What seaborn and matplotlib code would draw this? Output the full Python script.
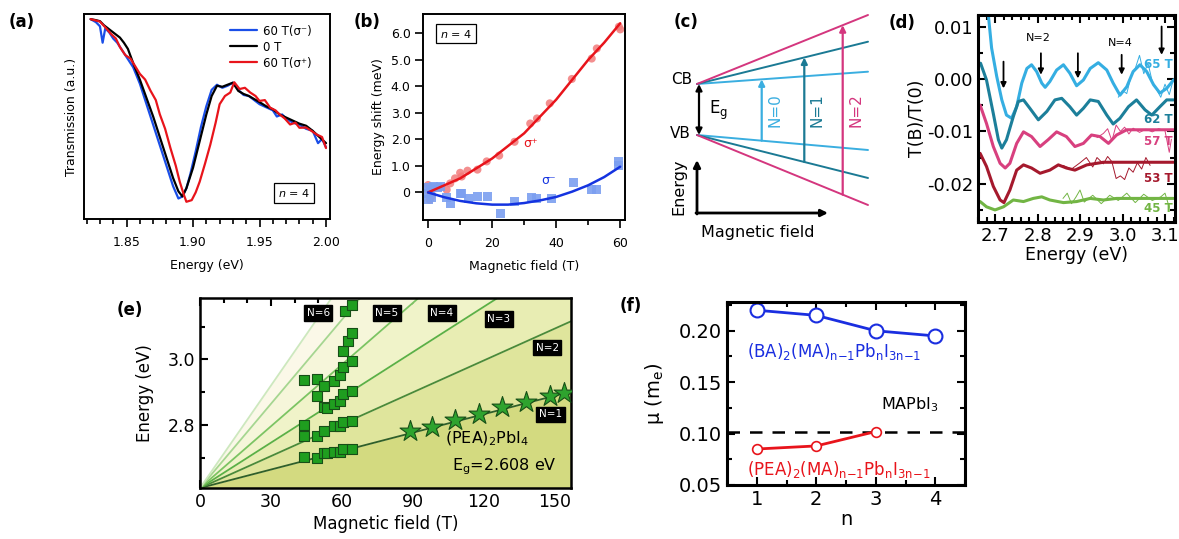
import numpy as np
import pandas as pd
import matplotlib.pyplot as plt
import seaborn as sns
from matplotlib.ticker import MultipleLocator, FormatStrFormatter

# ---------------- data ----------------
# (a) transmission spectra, n = 4
a_e_black = [1.823, 1.827, 1.830, 1.833, 1.836, 1.839, 1.842, 1.845, 1.848, 1.851, 1.855, 1.860,
             1.865, 1.870, 1.875, 1.880, 1.885, 1.889, 1.892, 1.895, 1.900, 1.905, 1.910, 1.914,
             1.918, 1.922, 1.926, 1.930, 1.934, 1.938, 1.942, 1.946, 1.950, 1.955, 1.960, 1.965,
             1.970, 1.975, 1.980, 1.985, 1.990, 1.995, 2.000]
a_t_black = [0.975, 0.970, 0.965, 0.945, 0.930, 0.915, 0.900, 0.885, 0.860, 0.830, 0.760, 0.680,
             0.590, 0.500, 0.400, 0.300, 0.200, 0.135, 0.110, 0.150, 0.250, 0.380, 0.510, 0.600,
             0.650, 0.645, 0.655, 0.665, 0.625, 0.610, 0.600, 0.585, 0.570, 0.550, 0.535, 0.510,
             0.495, 0.480, 0.465, 0.455, 0.430, 0.400, 0.370]
a_e_blue = [1.823, 1.827, 1.830, 1.832, 1.834, 1.837, 1.840, 1.843, 1.846, 1.849, 1.852, 1.855,
            1.860, 1.865, 1.870, 1.875, 1.880, 1.885, 1.889, 1.892, 1.895, 1.898, 1.902, 1.906,
            1.910, 1.914, 1.918, 1.922, 1.926, 1.930, 1.934, 1.938, 1.942, 1.946, 1.950, 1.955,
            1.960, 1.963, 1.967, 1.970, 1.975, 1.980, 1.985, 1.990, 1.994, 1.997, 2.000]
a_t_blue = [0.975, 0.960, 0.940, 0.860, 0.930, 0.910, 0.880, 0.860, 0.830, 0.800, 0.770, 0.740,
            0.660, 0.560, 0.460, 0.360, 0.260, 0.160, 0.100, 0.110, 0.150, 0.220, 0.330, 0.450,
            0.550, 0.630, 0.655, 0.640, 0.650, 0.665, 0.630, 0.605, 0.600, 0.580, 0.560, 0.545,
            0.530, 0.500, 0.510, 0.490, 0.470, 0.460, 0.440, 0.430, 0.370, 0.390, 0.350]
a_e_red = [1.823, 1.830, 1.834, 1.838, 1.842, 1.845, 1.849, 1.853, 1.857, 1.860, 1.864, 1.868,
           1.872, 1.875, 1.879, 1.883, 1.887, 1.890, 1.893, 1.895, 1.899, 1.902, 1.905, 1.909,
           1.913, 1.917, 1.920, 1.924, 1.928, 1.931, 1.935, 1.939, 1.943, 1.947, 1.950, 1.954,
           1.958, 1.962, 1.965, 1.969, 1.973, 1.977, 1.980, 1.985, 1.989, 1.993, 1.997, 2.000]
a_t_red = [0.975, 0.963, 0.935, 0.905, 0.880, 0.839, 0.800, 0.782, 0.740, 0.708, 0.680, 0.626,
           0.580, 0.511, 0.440, 0.346, 0.260, 0.182, 0.120, 0.084, 0.092, 0.130, 0.182, 0.270,
           0.363, 0.470, 0.560, 0.600, 0.617, 0.667, 0.634, 0.640, 0.617, 0.600, 0.576, 0.580,
           0.543, 0.530, 0.511, 0.490, 0.461, 0.470, 0.445, 0.446, 0.430, 0.412, 0.400, 0.346]

# (b) energy shift vs field
b_field_plus = [0, 0.2, 0.5, 1.0, 2.0, 3.5, 5.8, 6.9, 8.4, 10.0, 10.5, 12.3, 15.4, 18.3, 22.2,
                27.0, 31.9, 34.0, 38.0, 44.9, 51.1, 52.7, 59.6, 60.0]
b_shift_plus = [0.28, 0.05, -0.28, -0.15, 0.15, 0.20, 0.10, 0.34, 0.53, 0.74, 0.60, 0.82, 0.86,
                1.17, 1.39, 1.91, 2.60, 2.79, 3.36, 4.28, 5.05, 5.43, 6.25, 6.15]
b_field_minus = [0, 0, 0, 0.6, 1.2, 1.8, 2.8, 4.0, 5.6, 7.0, 10.0, 10.5, 12.6, 15.3, 18.5, 22.5,
                 27.0, 32.2, 34.0, 38.6, 45.4, 51.1, 52.7, 59.5, 59.5]
b_shift_minus = [0.20, -0.05, -0.25, 0.10, -0.20, 0.22, 0.20, 0.22, -0.18, -0.42, -0.04, -0.03,
                 -0.22, -0.16, -0.16, -0.80, -0.35, -0.18, -0.22, -0.22, 0.36, 0.10, 0.10, 1.15, 1.03]
b_fit_field_plus = [0, 10, 20, 30, 40, 50, 55, 60]
b_fit_plus = [0, 0.53, 1.28, 2.23, 3.50, 5.00, 5.65, 6.38]
b_fit_field_minus = [0, 5, 10, 15, 20, 25, 30, 35, 40, 45, 50, 55, 60]
b_fit_minus = [0, -0.18, -0.32, -0.41, -0.46, -0.46, -0.40, -0.30, -0.17, 0.03, 0.27, 0.58, 0.97]

# (c) Landau fan schematic (schematic units)
c_levels = ['N=0', 'N=1', 'N=2']
c_colors = ['#3aaee0', '#1b7a94', '#d4367e']
c_cb_end = [71.7, 41.7, 15.0]
c_vb_end = [150.0, 178.0, 205.0]
c_arrow_x = [761.7, 804.3, 842.7]

# (d) magneto-transmission traces
d_fields = ['65 T', '62 T', '57 T', '53 T', '45 T']
d_colors = ['#35aee2', '#1c7f9a', '#d8407f', '#a5192d', '#72b544']
d_e_65 = [2.684, 2.692, 2.704, 2.716, 2.727, 2.739, 2.751, 2.763, 2.775, 2.786, 2.798, 2.810, 2.818,
          2.829, 2.845, 2.861, 2.876, 2.892, 2.908, 2.924, 2.943, 2.963, 2.978, 2.994, 3.010,
          3.025, 3.041, 3.057, 3.073, 3.088, 3.104, 3.120]
d_v_65 = [0.0125, 0.0059, 0.0005, -0.0040, -0.0069, -0.0075, -0.0053, -0.0008, 0.0020, 0.0027,
          0.0014, -0.0008, -0.0016, -0.0005, 0.0017, 0.0027, 0.0011, -0.0013, -0.0002, 0.0020,
          0.0031, 0.0017, -0.0008, -0.0031, -0.0015, 0.0014, 0.0027, 0.0014, -0.0011, -0.0027,
          -0.0018, -0.0002]
d_e_62 = [2.666, 2.680, 2.696, 2.708, 2.716, 2.727, 2.743, 2.755, 2.767, 2.782, 2.802, 2.822, 2.841,
          2.857, 2.876, 2.892, 2.908, 2.924, 2.943, 2.963, 2.978, 2.994, 3.014, 3.033, 3.053,
          3.069, 3.088, 3.104, 3.120]
d_v_62 = [0.0030, -0.0002, -0.0066, -0.0116, -0.0132, -0.0116, -0.0072, -0.0043, -0.0040, -0.0056,
          -0.0078, -0.0062, -0.0040, -0.0037, -0.0053, -0.0069, -0.0056, -0.0040, -0.0043, -0.0069,
          -0.0086, -0.0075, -0.0053, -0.0040, -0.0059, -0.0069, -0.0053, -0.0040, -0.0040]
d_e_57 = [2.665, 2.680, 2.696, 2.712, 2.724, 2.735, 2.751, 2.767, 2.786, 2.806, 2.825, 2.845, 2.868,
          2.888, 2.908, 2.927, 2.947, 2.967, 2.986, 3.010, 3.049, 3.120]
d_v_57 = [-0.0050, -0.0085, -0.0129, -0.0161, -0.0170, -0.0161, -0.0123, -0.0101, -0.0110, -0.0129,
          -0.0116, -0.0101, -0.0110, -0.0129, -0.0123, -0.0107, -0.0110, -0.0123, -0.0107, -0.0097,
          -0.0097, -0.0097]
d_e_53 = [2.665, 2.680, 2.696, 2.712, 2.721, 2.735, 2.751, 2.767, 2.786, 2.806, 2.829, 2.849, 2.868,
          2.888, 2.916, 2.955, 2.986, 3.120]
d_v_53 = [-0.0142, -0.0167, -0.0205, -0.0231, -0.0236, -0.0212, -0.0174, -0.0164, -0.0170, -0.0180,
          -0.0174, -0.0164, -0.0170, -0.0174, -0.0164, -0.0159, -0.0159, -0.0159]
d_e_45 = [2.665, 2.680, 2.700, 2.720, 2.743, 2.767, 2.790, 2.810, 2.829, 2.861, 2.892, 2.924, 2.955,
          2.986, 3.025, 3.120]
d_v_45 = [-0.0234, -0.0244, -0.0250, -0.0244, -0.0231, -0.0234, -0.0228, -0.0225, -0.0231, -0.0236,
          -0.0234, -0.0228, -0.0231, -0.0228, -0.0228, -0.0228]
# noisy raw data where it departs from the fits
d_raw_e_65 = [2.99, 3.00, 3.01, 3.02, 3.03, 3.04, 3.05, 3.06, 3.07, 3.08, 3.09, 3.10, 3.11, 3.12]
d_raw_v_65 = [-0.0035, -0.0022, -0.0028, 0.0005, 0.0020, 0.0045, 0.0010, 0.0030, -0.0005, -0.0020,
              -0.0035, -0.0010, -0.0030, 0.0000]
d_raw_e_57 = [2.94, 2.955, 2.965, 2.975, 2.985, 2.995, 3.005, 3.015, 3.025, 3.04, 3.055, 3.07,
              3.085, 3.10, 3.11, 3.115]
d_raw_v_57 = [-0.0112, -0.0104, -0.0095, -0.0118, -0.0088, -0.0100, -0.0092, -0.0105, -0.0094,
              -0.0102, -0.0096, -0.0101, -0.0095, -0.0099, -0.0140, -0.0115]
d_raw_e_53 = [2.86, 2.88, 2.90, 2.915, 2.93, 2.94, 2.955, 2.965, 2.975, 2.985, 2.995, 3.005, 3.015,
              3.025, 3.035, 3.045, 3.055, 3.065]
d_raw_v_53 = [-0.0165, -0.0172, -0.0160, -0.0150, -0.0168, -0.0150, -0.0162, -0.0148, -0.0158,
              -0.0190, -0.0185, -0.0192, -0.0170, -0.0178, -0.0160, -0.0172, -0.0150, -0.0165]
d_raw_e_45 = [2.86, 2.87, 2.88, 2.89, 2.90, 2.91, 2.93, 2.95, 2.97, 2.99, 3.01, 3.03, 3.05, 3.07,
              3.09, 3.10, 3.11]
d_raw_v_45 = [-0.0228, -0.0218, -0.0238, -0.0226, -0.0212, -0.0235, -0.0222, -0.0238, -0.0222,
              -0.0232, -0.0218, -0.0236, -0.0220, -0.0232, -0.0225, -0.0218, -0.0245]
d_arrow_e = [2.720, 2.808, 2.895, 2.998, 3.092]
d_arrow_top = [0.0033, 0.0049, 0.0049, 0.0046, 0.0100]
d_arrow_bot = [-0.0018, 0.0008, 0.0001, 0.0008, 0.0046]
d_label_v = [0.0027, -0.0078, -0.0120, -0.0190, -0.0247]

# (e) Landau levels of (PEA)2PbI4
e_gap = 2.608
e_field_max = 157
e_levels = ['N=1', 'N=2', 'N=3', 'N=4', 'N=5', 'N=6']
e_level_end = [2.902, 3.116, 3.330, 3.591, 3.949, 4.240]
e_sq_field = [44, 44, 44, 44, 49.4, 49.4, 49.4, 49.4, 52.3, 52.3, 52.3, 52.3, 53.7, 53.7,
              56.5, 56.5, 56.5, 56.5, 59.3, 59.3, 59.3, 59.3, 60.7, 60.7, 60.7, 60.7, 60.7,
              61.4, 62.6, 64.3, 64.3, 64.3, 64.3, 64.3, 64.3]
e_sq_energy = [2.936, 2.801, 2.766, 2.702, 2.941, 2.887, 2.766, 2.700, 2.919, 2.854, 2.783, 2.715,
               2.851, 2.715, 2.934, 2.864, 2.798, 2.717, 2.952, 2.874, 2.798, 2.717, 3.025, 2.978,
               2.894, 2.808, 2.727, 3.146, 3.055, 3.167, 3.081, 2.995, 2.904, 2.813, 2.727]
e_star_field = [89, 98, 108, 118, 128, 138, 148, 154]
e_star_energy = [2.783, 2.795, 2.815, 2.835, 2.855, 2.871, 2.889, 2.899]

# (f) reduced mass
f_n_ba = [1, 2, 3, 4]
f_mu_ba = [0.220, 0.215, 0.200, 0.195]
f_n_pea = [1, 2, 3]
f_mu_pea = [0.085, 0.088, 0.102]
f_mu_mapbi3 = 0.102

# ---------------- styling ----------------
sns.set_theme(style="ticks")
plt.rcParams['font.family'] = ['DejaVu Sans']
plt.rcParams['axes.unicode_minus'] = False
for k in ['axes.edgecolor', 'xtick.color', 'ytick.color', 'text.color', 'axes.labelcolor']:
    plt.rcParams[k] = 'black'

W, H = 1179, 539
fig = plt.figure(figsize=(W / 100, H / 100), dpi=100)


def box(l, t, r, b):
    return fig.add_axes([l / W, 1 - b / H, (r - l) / W, (b - t) / H])


def panel_label(x, y, s):
    fig.text(x / W, 1 - y / H, s, ha='center', va='center', fontsize=12, fontweight='bold')


def inward(ax, lw=2.0, size=12):
    ax.tick_params(which='both', direction='in', top=True, right=True, width=1.5, labelsize=size)
    ax.tick_params(which='major', length=6)
    ax.tick_params(which='minor', length=3.5)
    for s in ax.spines.values():
        s.set_linewidth(lw)


SUB = '$_\\mathregular{%s}$'
formula_tail = '(MA)' + SUB % 'n{-}1' + 'Pb' + SUB % 'n' + 'I' + SUB % '3n{-}1'

# ---------------- (a) ----------------
ax = box(84, 14, 330, 219)
sns.lineplot(x=a_e_blue, y=a_t_blue, ax=ax, color='#1a4ee8', lw=1.6, label='60 T(σ⁻)')
sns.lineplot(x=a_e_black, y=a_t_black, ax=ax, color='black', lw=1.6, label='0 T')
sns.lineplot(x=a_e_red, y=a_t_red, ax=ax, color='#e8141b', lw=1.6, label='60 T(σ⁺)')
ax.set_xlim(1.818, 2.003)
ax.set_ylim(0, 1)
ax.set_yticks([])
ax.xaxis.set_major_locator(MultipleLocator(0.05))
ax.xaxis.set_minor_locator(MultipleLocator(0.01))
ax.xaxis.set_major_formatter(FormatStrFormatter('%.2f'))
ax.tick_params(axis='x', which='major', length=5.5, width=1.2, labelsize=9, pad=7)
ax.tick_params(axis='x', which='minor', length=3.5, width=1.2)
for s in ax.spines.values():
    s.set_linewidth(1.4)
ax.set_xlabel('Energy (eV)', fontsize=9, labelpad=7)
ax.set_ylabel('Transmission (a.u.)', fontsize=9)
ax.legend(loc='upper right', bbox_to_anchor=(0.97, 1.0), frameon=False, fontsize=8.5,
          handlelength=2.3, handletextpad=0.5, labelspacing=0.25)
ax.text(0.855, 0.125, '$n$ = 4', transform=ax.transAxes, ha='center', va='center', fontsize=8,
        bbox=dict(boxstyle='square,pad=0.35', fc='white', ec='black', lw=0.9))
panel_label(22, 22, '(a)')

# ---------------- (b) ----------------
ax = box(423, 14, 625, 220)
sns.scatterplot(x=b_field_plus, y=b_shift_plus, ax=ax, color='#f27b7b', s=34, marker='o',
                edgecolor='none', alpha=0.85)
sns.scatterplot(x=b_field_minus, y=b_shift_minus, ax=ax, color='#7b9ff0', s=42, marker='s',
                edgecolor='none', alpha=0.9)
sns.lineplot(x=b_fit_field_plus, y=b_fit_plus, ax=ax, color='#e8141b', lw=1.8)
sns.lineplot(x=b_fit_field_minus, y=b_fit_minus, ax=ax, color='#1433e0', lw=1.8)
ax.set_xlim(-1.6, 61.5)
ax.set_ylim(-1.04, 6.73)
ax.set_xticks([0, 20, 40, 60])
ax.xaxis.set_minor_locator(MultipleLocator(10))
ax.set_yticks([0, 1, 2, 3, 4, 5, 6])
ax.set_yticklabels(['0', '1.0', '2.0', '3.0', '4.0', '5.0', '6.0'])
ax.tick_params(which='major', length=5.5, width=1.2, labelsize=9)
ax.tick_params(axis='x', which='major', pad=7)
ax.tick_params(which='minor', length=3.5, width=1.2)
for s in ax.spines.values():
    s.set_linewidth(1.4)
ax.set_xlabel('Magnetic field (T)', fontsize=9, labelpad=7)
ax.set_ylabel('Energy shift (meV)', fontsize=9)
ax.text(32, 1.85, 'σ⁺', color='#e8141b', fontsize=9, ha='center', va='center')
ax.text(37.5, 0.45, 'σ⁻', color='#1433e0', fontsize=9, ha='center', va='center')
ax.text(0.165, 0.905, '$n$ = 4', transform=ax.transAxes, ha='center', va='center', fontsize=8,
        bbox=dict(boxstyle='square,pad=0.35', fc='white', ec='black', lw=0.9))
panel_label(367, 22, '(b)')

# ---------------- (c) schematic ----------------
ax = box(650, 0, 878, 245)
ax.set_xlim(650, 878)
ax.set_ylim(245, 0)
ax.axis('off')
x0, x1, ycb, yvb = 697, 868, 84, 135
for lab, col, ce, ve, xa in zip(c_levels, c_colors, c_cb_end, c_vb_end, c_arrow_x):
    ax.plot([x0, x1], [ycb, ce], color=col, lw=1.4)
    ax.plot([x0, x1], [yvb, ve], color=col, lw=1.4)
    frac = (xa - x0) / (x1 - x0)
    y_top = ycb + (ce - ycb) * frac
    y_bot = yvb + (ve - yvb) * frac
    ax.annotate('', xy=(xa, y_top), xytext=(xa, y_bot),
                arrowprops=dict(arrowstyle='-|>', color=col, lw=1.6, mutation_scale=9,
                                shrinkA=0, shrinkB=0))
    ax.text(xa + 13, 110, lab, color=col, rotation=90, ha='center', va='center', fontsize=11)
ax.annotate('', xy=(699, ycb), xytext=(699, yvb),
            arrowprops=dict(arrowstyle='<|-|>', color='black', lw=1.6, mutation_scale=9,
                            shrinkA=0, shrinkB=0))
ax.text(682, 80, 'CB', ha='center', va='center', fontsize=11)
ax.text(680, 133, 'VB', ha='center', va='center', fontsize=11)
ax.text(709, 110, 'E' + SUB % 'g', ha='left', va='center', fontsize=12)
ax.annotate('', xy=(697, 160), xytext=(697, 214),
            arrowprops=dict(arrowstyle='-|>', color='black', lw=2, mutation_scale=10,
                            shrinkA=0, shrinkB=0))
ax.annotate('', xy=(828, 213), xytext=(696, 213),
            arrowprops=dict(arrowstyle='-|>', color='black', lw=2, mutation_scale=10,
                            shrinkA=0, shrinkB=0))
ax.text(679, 187, 'Energy', rotation=90, ha='center', va='center', fontsize=11.5)
ax.text(758, 233, 'Magnetic field', ha='center', va='center', fontsize=11.5)
panel_label(686, 22, '(c)')

# ---------------- (d) ----------------
ax = box(978, 15, 1175, 222)
raw = [(d_raw_e_65, d_raw_v_65, 0), (d_raw_e_57, d_raw_v_57, 2), (d_raw_e_53, d_raw_v_53, 3),
       (d_raw_e_45, d_raw_v_45, 4)]
for xe, yv, i in raw:
    sns.lineplot(x=xe, y=yv, ax=ax, color=d_colors[i], lw=0.7)
fits = [(d_e_65, d_v_65), (d_e_62, d_v_62), (d_e_57, d_v_57), (d_e_53, d_v_53), (d_e_45, d_v_45)]
for (xe, yv), col in zip(fits, d_colors):
    sns.lineplot(x=xe, y=yv, ax=ax, color=col, lw=2.2)
for lab, col, yl in zip(d_fields, d_colors, d_label_v):
    ax.text(3.118, yl, lab, color=col, fontsize=8.5, fontweight='bold', ha='right', va='center')
for xe, yt, yb in zip(d_arrow_e, d_arrow_top, d_arrow_bot):
    ax.annotate('', xy=(xe, yb), xytext=(xe, yt),
                arrowprops=dict(arrowstyle='-|>', color='black', lw=1.3, mutation_scale=8,
                                shrinkA=0, shrinkB=0))
ax.text(2.803, 0.0079, 'N=2', fontsize=8, ha='center', va='center')
ax.text(2.994, 0.0069, 'N=4', fontsize=8, ha='center', va='center')
ax.set_xlim(2.660, 3.1235)
ax.set_ylim(-0.0273, 0.0122)
ax.xaxis.set_major_locator(MultipleLocator(0.1))
ax.xaxis.set_minor_locator(MultipleLocator(0.02))
ax.xaxis.set_major_formatter(FormatStrFormatter('%.1f'))
ax.yaxis.set_major_locator(MultipleLocator(0.01))
ax.yaxis.set_minor_locator(MultipleLocator(0.005))
ax.yaxis.set_major_formatter(FormatStrFormatter('%.2f'))
inward(ax, lw=2.2, size=13)
ax.set_xlabel('Energy (eV)', fontsize=12.5, labelpad=1)
ax.set_ylabel('T(B)/T(0)', fontsize=12.5, labelpad=1)
panel_label(902, 23, '(d)')

# ---------------- (e) ----------------
ax = box(200, 298, 571, 488)
fills = ['#d3da80', '#dfe59c', '#e8edb3', '#f0f3c9', '#f6f6da', '#fbf8e8']
line_cols = ['#2f5f2a', '#4a8a3a', '#5bb046', '#7cc462', '#a6d690', '#cde8be']
bx = [0, e_field_max]
lower = [e_gap, e_gap]
for end, fc in zip(e_level_end, fills):
    upper = [e_gap, end]
    ax.fill_between(bx, lower, upper, color=fc, lw=0)
    lower = upper
for end, lc in zip(e_level_end, line_cols):
    sns.lineplot(x=bx, y=[e_gap, end], ax=ax, color=lc, lw=1.3)
sns.scatterplot(x=e_sq_field, y=e_sq_energy, ax=ax, marker='s', s=60, color='#1f9e1f',
                edgecolor='#174f17', linewidth=0.8, zorder=5)
sns.scatterplot(x=e_star_field, y=e_star_energy, ax=ax, marker='*', s=250, color='#2ea32e',
                edgecolor='#174f17', linewidth=0.8, zorder=5)
e_lab_pos = [(148.3, 2.833), (146.9, 3.035), (126.4, 3.123), (102.4, 3.141), (79, 3.141),
             (50, 3.141)]
for lab, (bxp, ey) in zip(e_levels, e_lab_pos):
    ax.text(bxp, ey, lab, color='white', fontsize=7.5, ha='center', va='center', zorder=6,
            bbox=dict(boxstyle='square,pad=0.25', fc='black', ec='black'))
ax.text(121.5, 2.758, '(PEA)' + SUB % '2' + 'PbI' + SUB % '4', fontsize=11.5,
        ha='center', va='center')
ax.text(129, 2.672, 'E' + SUB % 'g' + '=2.608 eV', fontsize=11.5, ha='center', va='center')
ax.set_xlim(0, e_field_max)
ax.set_ylim(e_gap, 3.187)
ax.xaxis.set_major_locator(MultipleLocator(30))
ax.xaxis.set_minor_locator(MultipleLocator(10))
ax.yaxis.set_major_locator(MultipleLocator(0.2))
ax.yaxis.set_minor_locator(MultipleLocator(0.1))
ax.yaxis.set_major_formatter(FormatStrFormatter('%.1f'))
inward(ax, lw=1.8, size=12.5)
ax.set_xlabel('Magnetic field (T)', fontsize=12, labelpad=3)
ax.set_ylabel('Energy (eV)', fontsize=12, labelpad=10)
panel_label(130, 310, '(e)')

# ---------------- (f) ----------------
ax = box(727, 302, 965, 485)
ax.axhline(f_mu_mapbi3, color='black', lw=1.8, ls=(0, (5, 4)))
sns.lineplot(x=f_n_ba, y=f_mu_ba, ax=ax, color='#1a2ee0', lw=2, marker='o', markersize=10,
             markerfacecolor='white', markeredgecolor='#1a2ee0', markeredgewidth=1.5)
sns.lineplot(x=f_n_pea, y=f_mu_pea, ax=ax, color='#e8141b', lw=2, marker='o', markersize=7,
             markerfacecolor='white', markeredgecolor='#e8141b', markeredgewidth=1.2)
ax.text(0.83, 0.180, '(BA)' + SUB % '2' + formula_tail,
        color='#1a2ee0', fontsize=12, ha='left', va='center')
ax.text(0.83, 0.0646, '(PEA)' + SUB % '2' + formula_tail,
        color='#e8141b', fontsize=12, ha='left', va='center')
ax.text(3.58, 0.128, 'MAPbI' + SUB % '3', fontsize=11.5, ha='center', va='center')
ax.set_xlim(0.5, 4.5)
ax.set_ylim(0.05, 0.228)
ax.xaxis.set_major_locator(MultipleLocator(1))
ax.xaxis.set_minor_locator(MultipleLocator(0.5))
ax.yaxis.set_major_locator(MultipleLocator(0.05))
ax.yaxis.set_minor_locator(MultipleLocator(0.025))
ax.yaxis.set_major_formatter(FormatStrFormatter('%.2f'))
inward(ax, lw=2.2, size=14)
ax.set_xlabel('n', fontsize=14, labelpad=1)
ax.set_ylabel('μ (m' + SUB % 'e' + ')', fontsize=14, labelpad=9)
panel_label(631, 306, '(f)')

fig.savefig('out.png', dpi=100)
